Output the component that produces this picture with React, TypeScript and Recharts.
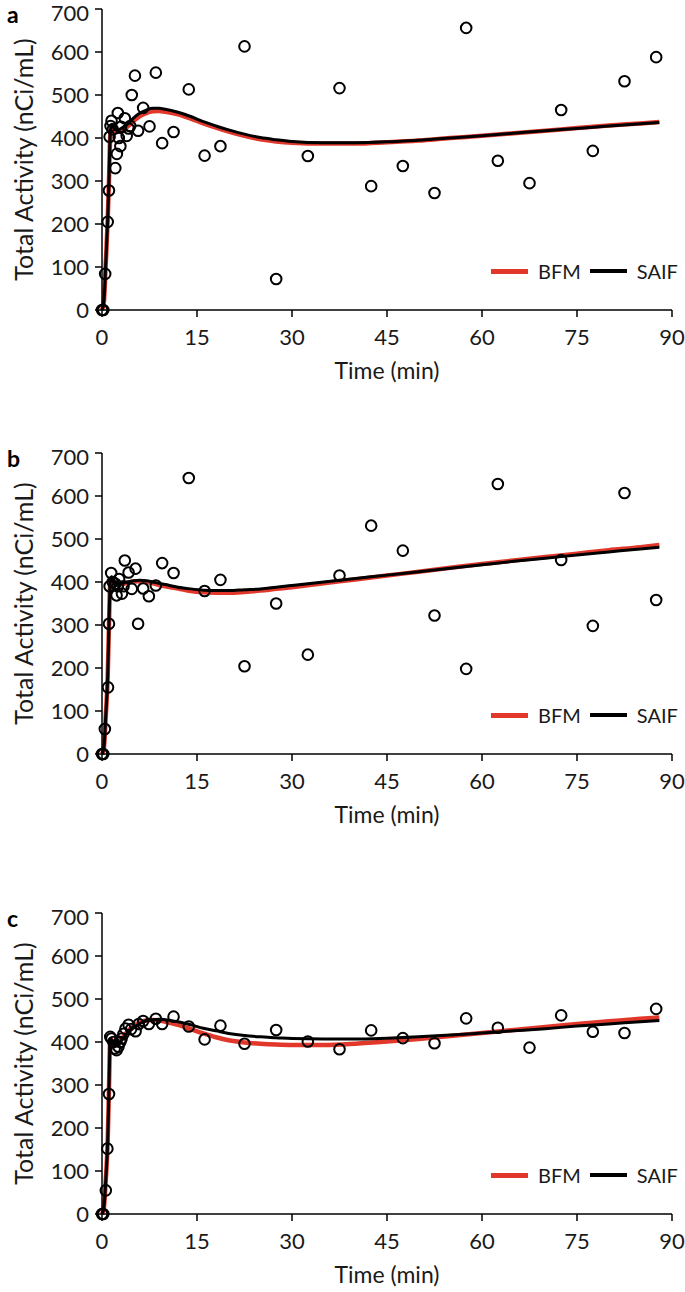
import React from "react";
import { ComposedChart, Line, Scatter, XAxis, YAxis, Legend, Label } from "recharts";

// model fit curves (shared time grid, min)
const fitTimes = [0, 0.3, 0.6, 0.9, 1.1, 1.3, 1.5, 2, 2.5, 3, 4, 5, 6, 7, 8, 9, 10, 12, 14, 16, 18, 20, 22.5, 25, 27.5, 30, 35, 40, 45, 50, 55, 60, 65, 70, 75, 80, 85, 88];

const bfmA = [0, 20, 110, 210, 300, 405, 428, 418, 414, 417, 426, 440, 451, 458, 462, 463, 461, 455, 445, 434, 424, 415, 405, 397, 392, 389, 387, 387, 390, 394, 400, 405, 411, 417, 423, 429, 434, 437];
const saifA = [0, 20, 110, 210, 300, 410, 432, 420, 418, 422, 432, 447, 458, 465, 469, 469, 467, 460, 450, 438, 428, 419, 409, 401, 396, 392, 389, 389, 391, 395, 400, 405, 411, 417, 422, 428, 433, 436];

const bfmB = [0, 15, 90, 180, 300, 398, 410, 398, 393, 394, 398, 401, 402, 400, 397, 393, 390, 385, 379, 376, 375, 375, 377, 380, 384, 388, 397, 406, 415, 424, 433, 442, 450, 458, 466, 474, 481, 486];
const saifB = [0, 15, 90, 180, 300, 400, 412, 400, 395, 396, 400, 403, 404, 403, 400, 397, 394, 388, 384, 381, 380, 380, 382, 384, 388, 392, 400, 408, 416, 424, 432, 440, 448, 455, 463, 470, 477, 481];

const bfmC = [0, 15, 80, 170, 290, 406, 405, 392, 395, 405, 424, 437, 446, 450, 451, 450, 447, 440, 430, 420, 411, 404, 399, 396, 394, 393, 393, 396, 401, 407, 414, 421, 428, 435, 442, 448, 454, 457];
const saifC = [0, 15, 80, 170, 290, 408, 405, 392, 393, 402, 420, 433, 443, 449, 452, 453, 452, 447, 440, 432, 426, 420, 415, 412, 410, 408, 407, 407, 409, 412, 416, 421, 426, 431, 437, 442, 447, 450];

// measured total activity (nCi/mL)
const obsTimesA = [0, 0.2, 0.5, 0.9, 1.1, 1.2, 1.35, 1.5, 1.7, 2.1, 2.35, 2.5, 2.65, 2.9, 3.0, 3.6, 3.9, 4.2, 4.45, 4.7, 5.2, 5.7, 6.5, 7.5, 8.5, 9.5, 11.3, 13.7, 16.2, 18.7, 22.5, 27.5, 32.5, 37.5, 42.5, 47.5, 52.5, 57.5, 62.5, 67.5, 72.5, 77.5, 82.5, 87.5];
const obsA = [0, 0, 84, 205, 278, 403, 428, 440, 420, 330, 363, 458, 400, 381, 426, 446, 405, 422, 428, 500, 545, 417, 470, 427, 552, 388, 414, 513, 359, 381, 613, 72, 358, 516, 288, 335, 272, 656, 347, 295, 465, 370, 532, 588];

const obsTimesB = [0, 0.2, 0.45, 0.95, 1.1, 1.2, 1.45, 1.7, 2.1, 2.3, 2.5, 2.7, 3.15, 3.4, 3.6, 4.2, 4.7, 5.3, 5.7, 6.5, 7.4, 8.5, 9.5, 11.3, 13.7, 16.2, 18.7, 22.5, 27.5, 32.5, 37.5, 42.5, 47.5, 52.5, 57.5, 62.5, 72.5, 77.5, 82.5, 87.5];
const obsB = [0, 0, 58, 155, 303, 390, 421, 400, 396, 369, 390, 407, 373, 390, 450, 422, 384, 431, 303, 385, 367, 392, 444, 421, 642, 379, 405, 204, 350, 231, 415, 531, 473, 322, 198, 628, 451, 298, 607, 358];

const obsTimesC = [0, 0.2, 0.6, 0.85, 1.1, 1.3, 1.5, 1.8, 2.0, 2.3, 2.6, 2.9, 3.1, 3.4, 3.7, 4.2, 4.6, 5.3, 5.8, 6.5, 7.4, 8.5, 9.5, 11.3, 13.7, 16.2, 18.7, 22.5, 27.5, 32.5, 37.5, 42.5, 47.5, 52.5, 57.5, 62.5, 67.5, 72.5, 77.5, 82.5, 87.5];
const obsC = [0, 0, 55, 152, 279, 412, 408, 400, 385, 381, 389, 400, 408, 419, 431, 440, 430, 425, 442, 449, 442, 454, 442, 459, 436, 406, 438, 396, 428, 401, 383, 427, 409, 397, 455, 433, 387, 462, 424, 421, 477];

const xTicks = [0, 15, 30, 45, 60, 75, 90];
const yTicks = [0, 100, 200, 300, 400, 500, 600, 700];

const RED = "#E2382B";
const FONT = "Lato, 'Open Sans', sans-serif";
const TEXT = "#1a1a1a";

const toPoints = (t: number[], v: number[]) => t.map((x, i) => ({ t: x, v: v[i] }));

const OpenCircle = (props: any) => (
  <circle cx={props.cx} cy={props.cy} r={5.3} fill="none" stroke="#000" strokeWidth={2} />
);

const LegendBox = (props: any) => {
  const items = (props.payload || []).filter((p: any) => p.value === "BFM" || p.value === "SAIF");
  return (
    <div style={{ display: "flex", alignItems: "center", fontFamily: FONT, fontSize: 20, color: TEXT, lineHeight: "24px" }}>
      {items.map((p: any) => (
        <div key={p.value} style={{ display: "flex", alignItems: "center" }}>
          <span style={{ display: "inline-block", width: 37, height: p.value === "BFM" ? 5 : 4, background: p.color }} />
          <span style={{ margin: "0 9px 0 10px" }}>{p.value}</span>
        </div>
      ))}
    </div>
  );
};

interface PanelProps {
  letter: string;
  top: number;
  bfm: number[];
  saif: number[];
  obsTimes: number[];
  obs: number[];
}

const Panel: React.FC<PanelProps> = ({ letter, top, bfm, saif, obsTimes, obs }) => (
  <div style={{ position: "absolute", left: 0, top, width: 685, height: 390 }}>
    <div style={{ position: "absolute", left: 7, top: 0, fontFamily: FONT, fontWeight: 700, fontSize: 23, zIndex: 2 }}>
      {letter}
    </div>
    <ComposedChart width={685} height={390} margin={{ top: 9, right: 13, bottom: 0, left: 0 }}>
      <XAxis
        dataKey="t"
        type="number"
        domain={[0, 90]}
        ticks={xTicks}
        height={80}
        tickSize={7}
        tickMargin={12}
        axisLine={{ stroke: "#000", strokeWidth: 1.5 }}
        tickLine={{ stroke: "#000", strokeWidth: 1.5 }}
        tick={{ fontSize: 22, fill: TEXT, fontFamily: FONT }}
      >
        <Label value="Time (min)" position="insideBottom" offset={11} style={{ fontSize: 23, fill: TEXT, fontFamily: FONT }} />
      </XAxis>
      <YAxis
        dataKey="v"
        type="number"
        domain={[0, 700]}
        ticks={yTicks}
        width={102}
        tickSize={7}
        tickMargin={6}
        axisLine={{ stroke: "#000", strokeWidth: 1.5 }}
        tickLine={{ stroke: "#000", strokeWidth: 1.5 }}
        tick={{ fontSize: 22, fill: TEXT, fontFamily: FONT }}
      >
        <Label
          value="Total Activity (nCi/mL)"
          angle={-90}
          position="insideLeft"
          offset={17}
          dx={7}
          style={{ textAnchor: "middle", fontSize: 25, fill: TEXT, fontFamily: FONT }}
        />
      </YAxis>
      <Legend
        content={<LegendBox />}
        layout="horizontal"
        verticalAlign="middle"
        align="center"
        wrapperStyle={{ left: 491, top: 259, width: "auto" }}
      />
      <Line data={toPoints(fitTimes, bfm)} dataKey="v" name="BFM" type="monotone" stroke={RED} strokeWidth={4.5} dot={false} isAnimationActive={false} />
      <Line data={toPoints(fitTimes, saif)} dataKey="v" name="SAIF" type="monotone" stroke="#000" strokeWidth={3} dot={false} isAnimationActive={false} />
      <Scatter data={toPoints(obsTimes, obs)} dataKey="v" name="Measured" legendType="none" shape={OpenCircle} isAnimationActive={false} />
    </ComposedChart>
  </div>
);

export default function App() {
  return (
    <div style={{ position: "absolute", left: 0, top: 0, width: 685, height: 1292, background: "#fff" }}>
      <Panel letter="a" top={0} bfm={bfmA} saif={saifA} obsTimes={obsTimesA} obs={obsA} />
      <Panel letter="b" top={444} bfm={bfmB} saif={saifB} obsTimes={obsTimesB} obs={obsB} />
      <Panel letter="c" top={904} bfm={bfmC} saif={saifC} obsTimes={obsTimesC} obs={obsC} />
    </div>
  );
}
